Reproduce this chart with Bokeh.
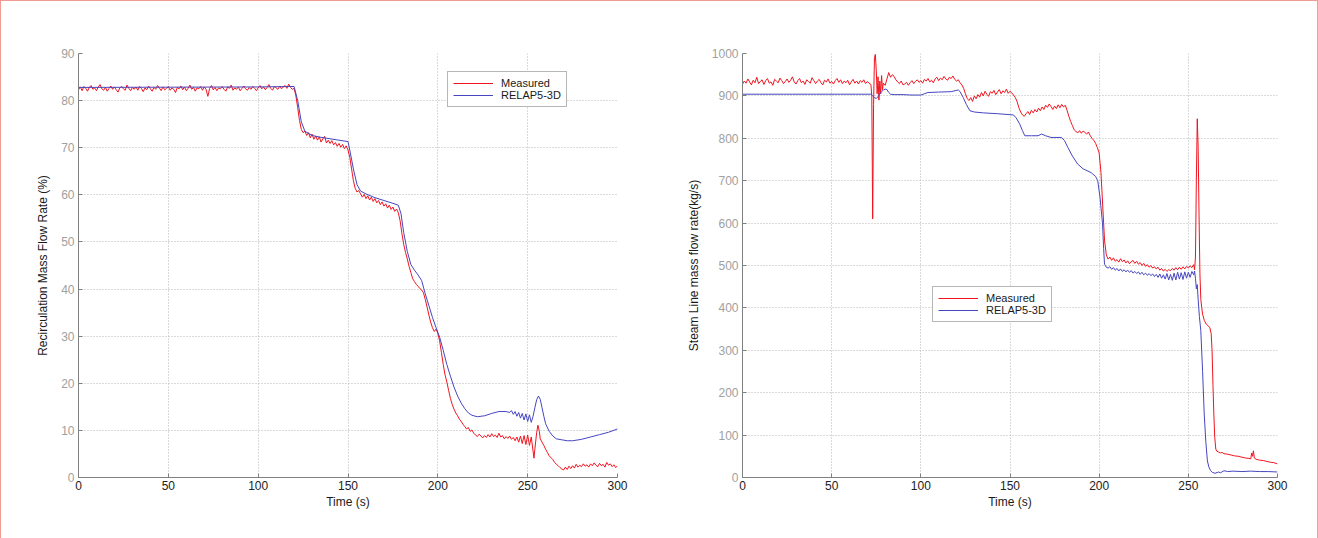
from bokeh.plotting import figure
from bokeh.layouts import row
from bokeh.models import Range1d, FixedTicker
from bokeh.embed import file_html
from bokeh.resources import INLINE

# ---------------- data: left chart (recirculation mass flow rate, %) ----------------
x_ticks = [0, 50, 100, 150, 200, 250, 300]
left_y_ticks = [0, 10, 20, 30, 40, 50, 60, 70, 80, 90]
right_y_ticks = [0, 100, 200, 300, 400, 500, 600, 700, 800, 900, 1000]

left_meas_t_a = list(range(0, 121))
left_meas_v_a = [
    82.3, 82.9, 82.1, 83.0, 82.6, 82.0, 82.8, 83.2, 82.4, 82.7,
    82.1, 82.9, 83.4, 82.5, 82.2, 82.8, 82.0, 82.6, 83.1, 82.4,
    82.9, 82.3, 81.8, 82.7, 83.0, 82.5, 82.2, 83.3, 82.6, 82.1,
    82.8, 82.4, 82.9, 82.2, 83.0, 82.6, 81.9, 82.7, 82.3, 83.1,
    82.5, 82.0, 82.8, 82.4, 83.2, 82.7, 82.1, 82.9, 82.3, 82.6,
    83.0, 82.2, 82.7, 82.4, 81.7, 82.8, 82.5, 83.1, 82.3, 82.9,
    82.1, 82.6, 83.3, 82.4, 82.8, 82.0, 82.7, 82.5, 83.0, 82.2,
    82.9, 82.4, 80.9, 82.6, 83.2, 82.3, 82.8, 82.1, 82.7, 82.5,
    83.0, 82.4, 82.0, 82.9, 82.6, 83.3, 82.2, 82.7, 82.4, 82.9,
    82.1, 82.6, 83.1, 82.5, 82.2, 82.8, 82.4, 83.0, 82.6, 82.1,
    82.7, 83.2, 82.5, 82.9, 82.3, 82.8, 83.4, 82.6, 82.2, 83.0,
    82.7, 82.4, 83.1, 82.5, 82.9, 83.2, 82.6, 83.5, 82.8, 82.4,
    82.6,
]
left_meas_t_b = list(range(121, 253)) + [253.5, 254, 255, 255.7, 256.5] + list(range(257, 301))
left_meas_v_b = [
    81.0, 78.5, 75.8, 73.9, 73.2, 73.5, 72.6, 73.2, 72.1, 72.9,
    71.8, 72.5, 71.6, 72.3, 71.2, 71.9, 72.4, 71.0, 71.6, 70.9,
    71.5, 70.6, 71.1, 70.3, 70.9, 70.1, 70.7, 69.8, 70.4, 69.5,
    68.0, 65.5, 63.0, 61.4, 60.6, 60.9, 60.2, 59.5, 60.1, 59.2,
    59.8, 58.9, 59.5, 58.6, 59.2, 58.3, 58.8, 57.9, 58.5, 57.6,
    58.1, 57.2, 57.8, 56.9, 57.4, 56.5, 57.0, 56.2, 54.5, 51.8,
    49.5, 47.8, 46.4, 44.8, 43.5, 42.2, 41.6, 41.0, 40.6, 40.1,
    39.8, 39.2, 37.8, 36.2, 34.5, 33.0, 31.8, 31.0, 31.5, 30.6,
    29.0, 26.5, 24.0, 21.8, 20.3, 18.5, 16.8, 15.5, 14.5, 13.7,
    13.1, 12.4, 11.9, 11.3, 10.8, 10.3, 10.6, 9.8, 10.1, 9.4,
    9.0, 8.7, 9.2, 8.8, 8.4, 8.9, 8.5, 9.1, 8.6, 9.3,
    8.7, 9.0, 8.5, 9.4, 8.6, 8.9, 8.2, 8.7, 8.3, 8.8,
    8.1, 8.5, 7.8, 8.6, 7.5, 8.8, 7.2, 8.9, 7.0, 9.0,
    6.8, 8.6,
    4.1, 6.0, 9.5, 11.1, 9.8,
    8.2, 7.5, 6.8, 6.0, 5.3, 4.6, 4.2, 3.8, 3.2, 2.8,
    2.5, 2.1, 1.8, 1.6, 2.2, 1.7, 2.4, 1.9, 2.5, 2.0,
    2.8, 2.2, 2.6, 2.3, 2.9, 2.4, 2.7, 2.2, 2.9, 2.5,
    3.1, 2.6, 2.3, 3.0, 2.5, 2.8, 2.2, 3.2, 2.6, 2.9,
    2.3, 2.7, 2.1, 2.5,
]
left_meas_t = left_meas_t_a + left_meas_t_b
left_meas_v = left_meas_v_a + left_meas_v_b

left_sim_t = [0, 100, 120, 122, 124, 126, 130, 135, 140, 145, 150, 151, 153, 155, 157,
              160, 165, 170, 175, 178, 179.5, 181, 183, 185, 187, 189, 191, 193, 195,
              197, 199, 201, 203, 205, 207, 209, 211, 213, 215, 217, 219, 222, 226,
              230, 234, 238, 240, 241, 242, 243, 244, 245, 246, 247, 248, 249, 250,
              251, 252, 253, 254, 255, 256, 257, 258, 259, 260, 262, 264, 266, 269,
              272, 275, 280, 285, 290, 295, 300]
left_sim_v = [82.8, 82.9, 83.0, 80.0, 75.5, 73.5, 72.6, 72.2, 71.9, 71.6, 71.3, 69.5,
              65.5, 62.2, 60.8, 60.2, 59.4, 58.8, 58.2, 57.8, 56.0, 52.0, 48.0, 45.2,
              44.0, 43.0, 41.8, 39.0, 36.5, 34.0, 31.8, 29.8, 27.0, 24.0, 21.5, 19.2,
              17.3, 15.8, 14.6, 13.7, 13.2, 12.9, 13.1, 13.6, 14.0, 14.0, 13.8, 14.2,
              13.4, 14.0, 13.0, 13.8, 12.6, 13.6, 12.2, 13.5, 11.9, 13.3, 11.7, 13.0,
              14.8, 16.5, 17.3, 16.6, 14.8, 13.0, 11.4, 9.8, 8.8, 8.2, 8.0, 7.8, 7.8,
              8.1, 8.6, 9.1, 9.6, 10.3]

# ---------------- data: right chart (steam line mass flow rate, kg/s) ----------------
right_meas_t_a = list(range(0, 73))
right_meas_v_a = [
    928, 935, 930, 940, 933, 926, 937, 931, 944, 929,
    934, 938, 927, 936, 941, 930, 933, 925, 939, 935,
    931, 942, 936, 929, 934, 940, 932, 937, 945, 933,
    928, 936, 941, 931, 935, 927, 938, 934, 930, 943,
    936, 929, 935, 939, 931, 926, 937, 933, 940, 930,
    934, 928, 936, 941, 932, 938, 929, 935, 931, 937,
    926, 933, 939, 930, 935, 928, 936, 932, 938, 929,
    934, 930, 927,
]
right_meas_t_b = [72.5, 73, 73.5, 74, 74.5, 75, 75.5, 76, 76.5, 77, 77.5, 78, 78.5,
                  79, 80, 81, 82, 83, 84, 85] + list(range(86, 254)) + \
                 [253.5, 254, 254.5, 255, 255.5, 256, 256.5, 257, 257.5, 258, 259, 260,
                  261, 262, 262.8, 263.3, 263.8, 264.3, 264.8, 265.4, 266, 267, 268,
                  269, 270, 272, 274, 276, 278, 280, 282, 284, 285, 285.5, 286, 286.5,
                  287, 288, 290, 292, 294, 296, 298, 300]
right_meas_v_b = [
    900, 610, 880, 990, 998, 960, 905, 945, 890, 935, 905, 948, 915,
    930, 925, 940, 955, 944, 950, 946,
    938, 933, 929, 935, 926, 928, 932, 925, 931, 936,
    929, 934, 938, 932, 936, 930, 939, 935, 941, 933,
    937, 931, 940, 944, 936, 942, 938, 946, 940, 937,
    944, 941, 947, 939, 935, 938, 931, 926, 918, 905,
    894, 889, 896, 887, 900, 893, 903, 897, 908, 900,
    911, 904, 899, 910, 906, 913, 903, 909, 915, 905,
    912, 908, 916, 906, 911, 907, 902, 896, 886, 872,
    862, 855, 852, 858, 863, 856, 866, 860, 868, 862,
    871, 865, 874, 868, 878, 873, 881, 875, 868, 876,
    870, 879, 872, 880, 874, 878, 866, 852, 840, 830,
    820, 816, 813, 818, 812, 817, 814, 810, 815, 806,
    800, 795, 788, 778, 765, 720, 640, 560, 525, 515,
    520, 512, 518, 510, 514, 508, 516, 509, 513, 506,
    511, 504, 509, 512, 505, 510, 503, 507, 500, 505,
    498, 502, 496, 500, 494, 497, 492, 496, 489, 493,
    487, 491, 486, 490, 488, 493, 489, 495, 490, 496,
    491, 497, 492, 498, 494, 499, 495, 502,
    490, 520, 700, 846, 780, 620, 480, 420, 401, 385, 370, 362,
    358, 354, 340, 300, 220, 150, 95, 67, 62, 60, 58,
    59, 56, 55, 53, 51, 50, 48, 46, 45, 44, 58, 50, 63,
    46, 43, 41, 40, 38, 36, 35, 32,
]
right_meas_t = right_meas_t_a + right_meas_t_b
right_meas_v = right_meas_v_a + right_meas_v_b

right_sim_t = [0, 72, 73, 74, 75, 76, 77, 78, 79, 80, 81, 82, 83, 85, 90, 95, 100, 102,
               104, 110, 117, 121, 122, 123.8, 125.5, 127.5, 130, 135, 143, 152, 153.5,
               155.5, 157, 158.3, 162, 165.7, 167.7, 170, 173, 178.8, 180.5, 182.5, 185,
               188, 191, 195.5, 198, 199.2, 200.5, 201.9, 202.5, 203, 204, 205] + \
              list(range(206, 254)) + \
              [253.5, 254, 254.5, 255, 255.5, 256.2, 257, 258, 258.9, 259.8, 260.7,
               261.5, 262.5, 263.5, 265, 267, 268, 270, 272, 275, 280, 285, 290, 295, 300]
right_sim_v = [904, 904, 900, 896, 894, 898, 905, 910, 914, 916, 915, 908, 904, 903, 903,
               902, 902, 905, 908, 909, 910, 914, 910, 896, 880, 865, 862, 860, 858, 855,
               848, 833, 818, 806, 806, 806, 810, 806, 802, 802, 795, 778, 758, 739, 728,
               719, 710, 700, 660, 598, 540, 503, 496, 494,
               497, 491, 495, 489, 493, 487, 492, 486, 490, 485,
               489, 484, 488, 482, 486, 481, 485, 479, 484, 478,
               482, 477, 481, 476, 480, 474, 479, 472, 480, 470,
               478, 468, 481, 466, 479, 465, 482, 466, 484, 468,
               483, 467, 485, 470, 484, 472, 486, 478,
               487, 470, 445, 455, 420, 380, 346, 250, 150, 85, 39,
               25, 16, 12, 10, 13, 11, 16, 14, 15, 14, 15, 14, 14, 13]

# ---------------- styling ----------------
RED = "#f0141e"
BLUE = "#4646c0"
FONT = "Liberation Sans"


def make_fig(width, height, mb_left, mb_right, mb_top, mb_bottom, y_end, y_ticks, ylabel):
    p = figure(width=width, height=height, output_backend="svg", toolbar_location=None,
               x_range=Range1d(0, 300), y_range=Range1d(0, y_end),
               min_border_left=mb_left, min_border_right=mb_right,
               min_border_top=mb_top, min_border_bottom=mb_bottom)
    p.outline_line_color = None
    p.background_fill_color = "white"
    p.border_fill_color = "white"
    p.xaxis.ticker = FixedTicker(ticks=x_ticks)
    p.yaxis.ticker = FixedTicker(ticks=y_ticks)
    p.xaxis.axis_label = "Time (s)"
    p.yaxis.axis_label = ylabel
    for ax in (p.xaxis, p.yaxis):
        ax.axis_line_color = "#808080"
        ax.axis_line_width = 1
        ax.major_tick_line_color = "#808080"
        ax.major_tick_in = 4
        ax.major_tick_out = 0
        ax.minor_tick_line_color = None
        ax.major_label_text_font = FONT
        ax.major_label_text_font_size = "12px"
        ax.axis_label_text_font = FONT
        ax.axis_label_text_font_size = "12px"
        ax.axis_label_text_font_style = "normal"
        ax.axis_label_text_color = "#1a1a1a"
    p.xaxis.major_label_text_color = "#222222"
    p.yaxis.major_label_text_color = "#a0a0a0"
    p.xaxis.major_label_standoff = 3
    p.xaxis.axis_label_standoff = 2
    p.yaxis.major_label_standoff = 4
    p.yaxis.axis_label_standoff = 8
    for g in (p.xgrid, p.ygrid):
        g.grid_line_color = "#b4b4b4"
        g.grid_line_dash = "1 2"
        g.grid_line_width = 1
    return p


p1 = make_fig(658, 537, 77, 42, 50, 61, 90, left_y_ticks, "Recirculation Mass Flow Rate (%)")
p1.line(left_meas_t, left_meas_v, line_color=RED, line_width=1, legend_label="Measured")
p1.line(left_sim_t, left_sim_v, line_color=BLUE, line_width=1, legend_label="RELAP5-3D")

p2 = make_fig(658, 537, 83, 40, 52, 60, 1000, right_y_ticks, "Steam Line mass flow rate(kg/s)")
p2.line(right_meas_t, right_meas_v, line_color=RED, line_width=1, legend_label="Measured")
p2.line(right_sim_t, right_sim_v, line_color=BLUE, line_width=1, legend_label="RELAP5-3D")

for p, loc in ((p1, (369, 370)), (p2, (190, 155))):
    lg = p.legend[0]
    lg.location = loc
    lg.border_line_color = "#6e6e6e"
    lg.border_line_width = 1
    lg.background_fill_color = "white"
    lg.background_fill_alpha = 1
    lg.padding = 5
    lg.spacing = 0
    lg.margin = 0
    lg.glyph_width = 40
    lg.glyph_height = 12
    lg.label_height = 12
    lg.label_standoff = 8
    lg.label_text_font = FONT
    lg.label_text_font_size = "11px"
    lg.label_text_color = "#1a1a1a"

layout = row(p1, p2, styles={"border-top": "1px solid #f29a94",
                             "border-left": "1px solid #f29a94",
                             "border-right": "1px solid #f29a94"})

open("out.html", "w").write(file_html(layout, INLINE))
